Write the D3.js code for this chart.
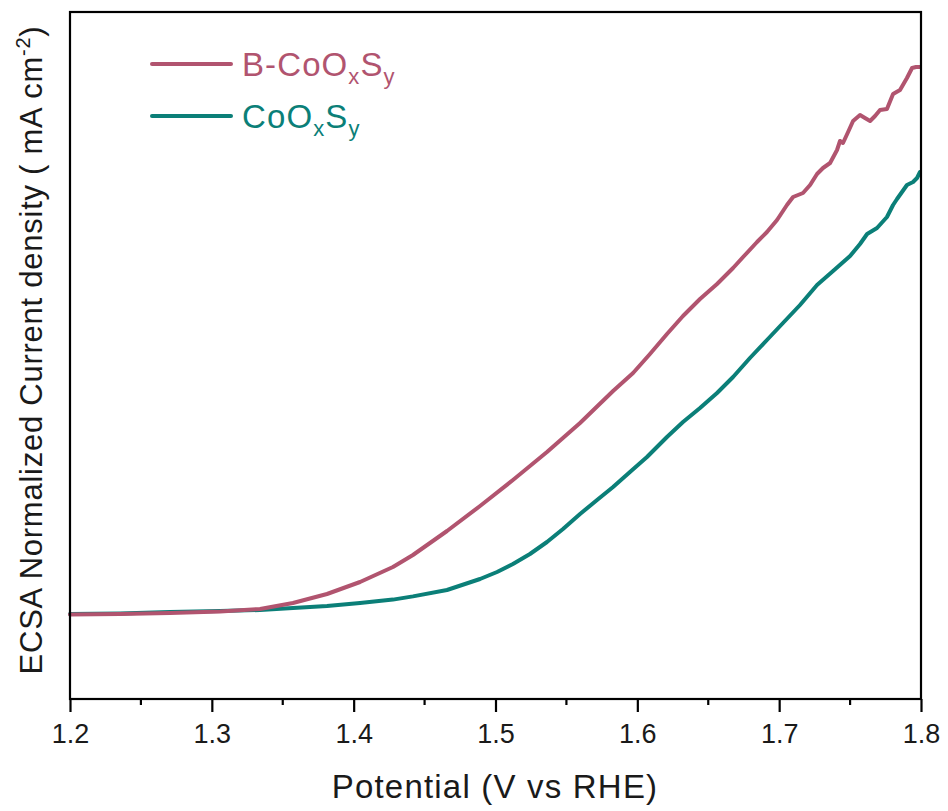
<!DOCTYPE html>
<html>
<head>
<meta charset="utf-8">
<script src="https://cdn.jsdelivr.net/npm/d3@7"></script>
<style>
  html, body { margin: 0; padding: 0; background: #fff; }
  svg { display: block; font-family: "Liberation Sans", Arial, sans-serif; }
</style>
</head>
<body>
<svg id="chart" width="948" height="811"></svg>
<script>
// ---- data (current in arbitrary units) ----
const seriesNames = ["B-CoOxSy", "CoOxSy"];
const xTickValues = [1.2, 1.3, 1.4, 1.5, 1.6, 1.7, 1.8];

const potentialB = [1.200,1.2353,1.2705,1.3058,1.3340,1.3572,1.3812,1.4045,1.4277,1.4418,1.4658,1.4891,1.5123,1.5363,1.5596,1.5829,1.5970,1.6089,1.6209,1.6322,1.6442,1.6562,1.6675,1.6759,1.6844,1.6914,1.6985,1.7055,1.7098,1.7168,1.7218,1.7267,1.7309,1.7359,1.7408,1.7429,1.7450,1.7486,1.7521,1.7570,1.7605,1.7641,1.7676,1.7711,1.7760,1.7803,1.7852,1.7901,1.7937,1.7965,1.7993];
const currentB   = [-0.02,0.00,0.05,0.13,0.25,0.55,1.00,1.60,2.35,2.95,4.15,5.40,6.70,8.10,9.55,11.15,12.05,13.00,14.00,14.90,15.75,16.50,17.30,17.95,18.60,19.10,19.70,20.45,20.85,21.05,21.45,22.00,22.30,22.55,23.20,23.65,23.55,24.10,24.65,24.95,24.80,24.65,24.90,25.20,25.25,26.00,26.20,26.80,27.30,27.35,27.35];

const potentialC = [1.200,1.2353,1.2705,1.3058,1.3340,1.3572,1.3812,1.4045,1.4277,1.4418,1.4658,1.4891,1.5011,1.5123,1.5243,1.5363,1.5476,1.5596,1.5716,1.5829,1.5948,1.6068,1.6209,1.6322,1.6442,1.6562,1.6675,1.6794,1.6914,1.7027,1.7147,1.7267,1.7380,1.7500,1.7570,1.7620,1.7690,1.7760,1.7803,1.7831,1.7901,1.7944,1.7972,1.7993];
const currentC   = [0.00,0.03,0.10,0.15,0.20,0.30,0.40,0.55,0.72,0.88,1.20,1.75,2.10,2.50,3.00,3.60,4.25,5.00,5.70,6.35,7.10,7.85,8.85,9.60,10.30,11.05,11.85,12.80,13.70,14.55,15.45,16.45,17.15,17.90,18.50,19.00,19.30,19.85,20.45,20.75,21.45,21.60,21.80,22.10];

const colors = ["#b1546f", "#0b7f78"];

// ---- layout ----
const mLeft = 70, mRight = 921, mTop = 12, mBottom = 699;
const svg = d3.select("#chart");

const x = d3.scaleLinear().domain([1.2, 1.8]).range([mLeft, mRight]);
const y = d3.scaleLinear().domain([-4.25, 30.1]).range([mBottom, mTop]);

const seriesData = [
  potentialB.map((v, i) => ({ v, j: currentB[i] })),
  potentialC.map((v, i) => ({ v, j: currentC[i] }))
];

const line = d3.line().x(d => x(d.v)).y(d => y(d.j)).curve(d3.curveLinear);

// curves (draw CoOxSy first so B-CoOxSy overlays at baseline)
[1, 0].forEach(k => {
  svg.append("path")
    .datum(seriesData[k])
    .attr("fill", "none")
    .attr("stroke", colors[k])
    .attr("stroke-width", 4)
    .attr("stroke-linejoin", "round")
    .attr("stroke-linecap", "round")
    .attr("d", line);
});

// frame
svg.append("rect")
  .attr("x", mLeft).attr("y", mTop)
  .attr("width", mRight - mLeft).attr("height", mBottom - mTop)
  .attr("fill", "none").attr("stroke", "#000").attr("stroke-width", 2.2);

// x axis: major ticks
const xAxis = d3.axisBottom(x)
  .tickValues(xTickValues)
  .tickFormat(d3.format(".1f"))
  .tickSize(13)
  .tickPadding(12);
const gx = svg.append("g").attr("transform", `translate(0,${mBottom})`).call(xAxis);
gx.select(".domain").remove();
gx.selectAll(".tick line").attr("stroke", "#000").attr("stroke-width", 2.2);
gx.selectAll(".tick text")
  .attr("font-size", 27)
  .attr("fill", "#1a1a1a")
  .attr("font-family", "Liberation Sans, Arial, sans-serif");

// minor ticks
const minorTicks = d3.range(6).map(i => 1.25 + i * 0.1);
svg.append("g").selectAll("line").data(minorTicks).join("line")
  .attr("x1", d => x(d)).attr("x2", d => x(d))
  .attr("y1", mBottom).attr("y2", mBottom + 6)
  .attr("stroke", "#000").attr("stroke-width", 2.2);

// x title
svg.append("text")
  .attr("x", 495).attr("y", 798)
  .attr("text-anchor", "middle")
  .attr("font-size", 33)
  .attr("letter-spacing", 1.2)
  .attr("fill", "#1a1a1a")
  .text("Potential (V vs RHE)");

// y title
const yt = svg.append("text")
  .attr("transform", `translate(42,350) rotate(-90)`)
  .attr("text-anchor", "middle")
  .attr("font-size", 31)
  .attr("letter-spacing", 0.75)
  .attr("fill", "#1a1a1a");
yt.append("tspan").text("ECSA Normalized Current density ( mA cm");
yt.append("tspan").attr("font-size", 20).attr("dy", -12).text("-2");
yt.append("tspan").attr("dy", 12).text(")");

// legend
const legendY = [64, 116];
seriesNames.forEach((name, k) => {
  svg.append("line")
    .attr("x1", 152).attr("x2", 231)
    .attr("y1", legendY[k]).attr("y2", legendY[k])
    .attr("stroke", colors[k]).attr("stroke-width", 4)
    .attr("stroke-linecap", "round");
  const t = svg.append("text")
    .attr("x", 242).attr("y", legendY[k] + 11.5)
    .attr("font-size", 33)
    .attr("letter-spacing", 1.1)
    .attr("fill", colors[k]);
  const prefix = k === 0 ? "B-CoO" : "CoO";
  t.append("tspan").text(prefix);
  t.append("tspan").attr("font-size", 22).attr("dy", 8).text("x");
  t.append("tspan").attr("dy", -8).text("S");
  t.append("tspan").attr("font-size", 22).attr("dy", 8).text("y");
});
</script>
</body>
</html>
